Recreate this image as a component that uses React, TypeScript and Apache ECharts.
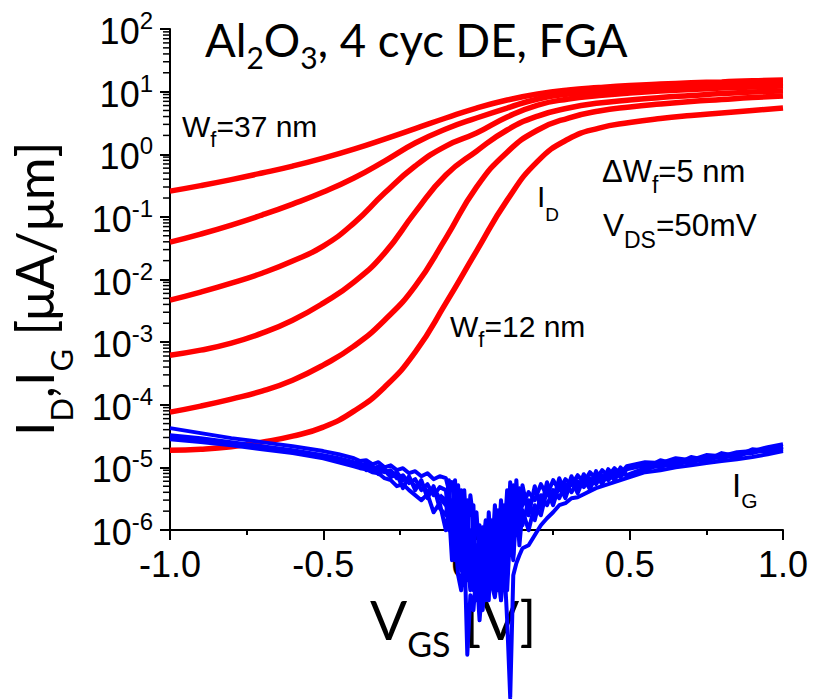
import React, { useEffect, useRef } from 'react';
import * as echarts from 'echarts';

// Gate voltage grid for drain-current curves [V]
const VGS = [-1.0, -0.9, -0.8, -0.7, -0.6, -0.5, -0.4, -0.3, -0.2, -0.1, 0.0, 0.1, 0.2, 0.3, 0.4, 0.5, 0.6, 0.7, 0.8, 0.9, 1.0];

// Drain current I_D [uA/um] for fin widths 37 ... 12 nm
const ID_37 = [0.258, 0.316, 0.394, 0.501, 0.648, 0.869, 1.21, 1.75, 2.57, 3.79, 5.47, 7.35, 9.16, 10.6, 11.6, 12.5, 13.2, 13.8, 14.3, 14.9, 15.3];
const ID_32 = [0.0395, 0.0531, 0.0740, 0.107, 0.160, 0.249, 0.417, 0.778, 1.51, 2.53, 3.79, 5.47, 7.62, 9.16, 10.2, 11.0, 11.6, 12.3, 12.7, 13.2, 13.7];
const ID_27 = [0.00469, 0.00630, 0.00875, 0.0126, 0.0197, 0.0342, 0.0796, 0.240, 0.648, 1.35, 2.18, 3.93, 6.11, 7.62, 8.66, 9.51, 10.2, 10.8, 11.4, 11.8, 12.3];
const ID_22 = [6.19e-4, 7.45e-4, 9.64e-4, 1.39e-3, 2.24e-3, 4.20e-3, 9.08e-3, 0.0264, 0.119, 0.466, 1.12, 2.44, 4.07, 5.47, 6.58, 7.35, 8.05, 8.66, 9.33, 9.86, 10.2];
const ID_17 = [7.62e-5, 9.51e-5, 1.23e-4, 1.65e-4, 2.47e-4, 4.30e-4, 8.63e-4, 2.24e-3, 7.85e-3, 0.0458, 0.299, 1.08, 2.44, 3.79, 4.90, 5.68, 6.34, 6.95, 7.48, 8.05, 8.51];
const ID_12 = [1.88e-5, 1.95e-5, 2.14e-5, 2.53e-5, 3.15e-5, 4.39e-5, 7.91e-5, 1.91e-4, 6.92e-4, 4.20e-3, 0.0284, 0.185, 0.778, 1.75, 2.62, 3.21, 3.72, 4.15, 4.55, 4.99, 5.47];

// Gate voltage grid for gate-leakage traces [V]
const VG_G = [
  -1.00, -0.90, -0.80, -0.70, -0.60, -0.50, -0.45,
  -0.40, -0.38, -0.36, -0.34, -0.32, -0.30, -0.28, -0.26, -0.24, -0.22, -0.20, -0.18, -0.16, -0.14, -0.12,
  -0.10, -0.09, -0.08, -0.07, -0.06, -0.05, -0.04, -0.03, -0.02, -0.01,
  0.00, 0.01, 0.02, 0.03, 0.04, 0.05, 0.06, 0.07, 0.08, 0.09,
  0.10, 0.11, 0.12, 0.13, 0.14, 0.15,
  0.17, 0.19, 0.21, 0.23, 0.25, 0.27, 0.29, 0.31, 0.33, 0.35, 0.37, 0.39, 0.41, 0.43, 0.45, 0.47, 0.49,
  0.55, 0.60, 0.65, 0.70, 0.75, 0.80, 0.85, 0.90, 0.95, 1.00,
];

// Gate current I_G [uA/um], overlapping traces
const IG_A = [
  4.23e-5, 3.52e-5, 2.93e-5, 2.53e-5, 2.18e-5, 1.82e-5, 1.62e-5,
  1.40e-5, 1.26e-5, 1.30e-5, 1.12e-5, 1.21e-5, 1.0e-5, 1.08e-5, 9.02e-6, 9.70e-6, 8.07e-6, 8.69e-6, 7.23e-6, 8.07e-6, 6.48e-6, 7.23e-6,
  6.72e-6, 4.33e-6, 5.80e-6, 2.07e-6, 5.20e-6, 9.9e-7, 4.33e-6, 6.87e-7, 3.60e-6, 1.43e-6,
  1.92e-6, 3.29e-7, 1.11e-6, 1.58e-7, 1.92e-6, 3.29e-7, 2.49e-6, 4.75e-7, 2.99e-6, 6.87e-7,
  4.33e-6, 1.19e-6, 5.20e-6, 1.72e-6, 4.66e-6, 2.49e-6,
  4.02e-6, 2.99e-6, 5.39e-6, 3.60e-6, 6.25e-6, 4.33e-6, 6.48e-6, 5.20e-6, 7.50e-6, 5.80e-6, 8.38e-6, 6.48e-6, 9.02e-6, 7.23e-6, 9.70e-6, 8.07e-6, 1.04e-5,
  1.21e-5, 1.17e-5, 1.40e-5, 1.30e-5, 1.57e-5, 1.51e-5, 1.75e-5, 1.82e-5, 2.10e-5, 2.35e-5,
];
const IG_B = [
  3.27e-5, 2.93e-5, 2.53e-5, 2.18e-5, 1.88e-5, 1.57e-5, 1.40e-5,
  1.21e-5, 1.17e-5, 1.0e-5, 1.04e-5, 9.02e-6, 9.35e-6, 7.50e-6, 8.38e-6, 6.25e-6, 6.72e-6, 4.83e-6, 5.60e-6, 4.02e-6, 4.66e-6, 3.22e-6,
  2.49e-6, 6.25e-6, 6.87e-7, 3.60e-6, 3.29e-7, 1.43e-6, 2.74e-7, 2.99e-6, 1.90e-7, 5.71e-7,
  1.09e-7, 1.19e-6, 6.30e-8, 6.87e-7, 7.57e-8, 1.43e-6, 1.58e-7, 2.07e-6, 2.74e-7, 2.49e-6,
  4.75e-7, 5.80e-6, 6.87e-7, 6.25e-6, 9.9e-7, 5.20e-6,
  1.72e-6, 5.01e-6, 2.23e-6, 5.80e-6, 2.99e-6, 6.72e-6, 3.73e-6, 7.23e-6, 4.33e-6, 7.78e-6, 5.01e-6, 8.69e-6, 5.80e-6, 9.35e-6, 6.72e-6, 1.0e-5, 7.50e-6,
  9.70e-6, 1.30e-5, 1.12e-5, 1.46e-5, 1.30e-5, 1.69e-5, 1.51e-5, 1.95e-5, 1.82e-5, 2.10e-5,
];
const IG_C = [
  2.82e-5, 2.53e-5, 2.26e-5, 1.95e-5, 1.69e-5, 1.40e-5, 1.21e-5,
  1.04e-5, 9.70e-6, 9.35e-6, 8.38e-6, 8.07e-6, 6.72e-6, 6.25e-6, 5.01e-6, 5.39e-6, 4.33e-6, 3.60e-6, 2.99e-6, 3.73e-6, 1.92e-6, 2.68e-6,
  9.9e-7, 2.07e-6, 3.29e-7, 9.9e-7, 1.90e-7, 1.09e-7, 6.87e-7, 1.02e-8, 9.08e-8, 5.24e-8,
  2.28e-7, 3.62e-8, 1.58e-7, 1.09e-7, 3.95e-7, 1.31e-7, 8.45e-8, 2.28e-7, 7.57e-8, 3.29e-7,
  3.62e-8, 2.10e-9, 1.90e-7, 2.95e-7, 3.95e-7, 5.12e-7,
  5.71e-7, 8.26e-7, 1.19e-6, 1.54e-6, 1.92e-6, 2.49e-6, 2.68e-6, 3.22e-6, 3.34e-6, 3.73e-6, 4.17e-6, 4.66e-6, 5.01e-6, 5.39e-6, 5.80e-6, 6.25e-6, 6.72e-6,
  8.38e-6, 9.02e-6, 1.0e-5, 1.08e-5, 1.17e-5, 1.26e-5, 1.35e-5, 1.46e-5, 1.62e-5, 1.82e-5,
];
const IG_D = [
  3.15e-5, 2.72e-5, 2.35e-5, 2.10e-5, 1.82e-5, 1.51e-5, 1.35e-5,
  1.17e-5, 1.04e-5, 1.17e-5, 9.35e-6, 1.04e-5, 8.38e-6, 9.02e-6, 6.72e-6, 7.50e-6, 5.60e-6, 6.48e-6, 4.33e-6, 5.39e-6, 3.60e-6, 4.83e-6,
  4.33e-6, 1.43e-6, 2.99e-6, 5.71e-7, 1.72e-6, 4.33e-6, 4.75e-7, 1.58e-7, 9.9e-7, 1.58e-7,
  5.71e-7, 7.57e-8, 4.75e-7, 1.43e-6, 1.09e-7, 6.87e-7, 1.19e-6, 1.09e-7, 6.87e-7, 1.90e-7,
  1.43e-6, 4.75e-7, 2.07e-6, 8.26e-7, 2.99e-6, 1.19e-6,
  2.99e-6, 1.43e-6, 3.60e-6, 2.49e-6, 4.33e-6, 3.22e-6, 5.39e-6, 4.02e-6, 6.02e-6, 4.83e-6, 6.72e-6, 5.39e-6, 7.50e-6, 6.25e-6, 8.38e-6, 6.97e-6, 9.35e-6,
  1.08e-5, 1.0e-5, 1.26e-5, 1.17e-5, 1.46e-5, 1.40e-5, 1.62e-5, 1.69e-5, 1.95e-5, 2.18e-5,
];
const IG_E = [
  3.04e-5, 2.62e-5, 2.35e-5, 2.03e-5, 1.75e-5, 1.46e-5, 1.30e-5,
  1.08e-5, 1.12e-5, 9.02e-6, 1.0e-5, 7.78e-6, 9.02e-6, 6.97e-6, 7.78e-6, 4.66e-6, 7.23e-6, 4.33e-6, 6.25e-6, 3.22e-6, 5.01e-6, 2.23e-6,
  1.72e-6, 3.34e-6, 1.19e-6, 6.25e-6, 6.87e-7, 2.28e-7, 2.07e-6, 3.29e-7, 1.09e-7, 2.49e-6,
  7.57e-8, 6.87e-7, 5.24e-8, 2.74e-7, 9.9e-7, 1.90e-7, 3.29e-7, 9.9e-7, 1.58e-7, 1.43e-6,
  2.74e-7, 2.99e-6, 3.95e-7, 2.99e-6, 5.71e-7, 2.07e-6,
  9.9e-7, 2.49e-6, 1.72e-6, 4.33e-6, 2.49e-6, 5.20e-6, 3.22e-6, 6.25e-6, 3.87e-6, 6.72e-6, 4.49e-6, 7.50e-6, 5.39e-6, 8.38e-6, 6.25e-6, 9.02e-6, 7.23e-6,
  9.02e-6, 1.12e-5, 1.04e-5, 1.35e-5, 1.26e-5, 1.57e-5, 1.46e-5, 1.88e-5, 1.75e-5, 1.95e-5,
];

// Sixth trace, recorded only around the minimum
const VG_F = [
  -0.12, -0.10, -0.09, -0.08, -0.07, -0.06, -0.05, -0.04, -0.03, -0.02, -0.01,
  0.00, 0.01, 0.02, 0.03, 0.04, 0.05, 0.06, 0.07, 0.08, 0.09,
  0.10, 0.11, 0.12, 0.13, 0.14, 0.15, 0.17,
];
const IG_F = [
  3.60e-6, 2.99e-6, 9.9e-7, 2.07e-6, 3.29e-7, 2.99e-6, 4.75e-7, 1.31e-7, 1.43e-6, 3.29e-7, 1.09e-7,
  3.95e-7, 1.31e-7, 6.87e-7, 7.57e-8, 2.28e-7, 9.9e-7, 1.31e-7, 5.71e-7, 7.57e-8, 9.9e-7,
  1.09e-7, 9.9e-7, 3.29e-7, 2.07e-6, 1.19e-6, 2.99e-6, 2.49e-6,
];

const ID_CURVES = [ID_37, ID_32, ID_27, ID_22, ID_17, ID_12];
const IG_CURVES: [number[], number[]][] = [
  [VG_G, IG_C], [VG_F, IG_F], [VG_G, IG_E], [VG_G, IG_B], [VG_G, IG_D], [VG_G, IG_A],
];

// Axis ranges and ticks
const X_MIN = -1.0;
const X_MAX = 1.0;
const X_STEP = 0.5;
const Y_MIN = 1e-6;
const Y_MAX = 1e2;
const LOG_MINOR = [2, 3, 4, 5, 6, 7, 8, 9];

const SANS = "'Liberation Sans', Arial, sans-serif";
const CAL = "Lato, 'Open Sans', sans-serif";

function tok(fs: number, font: string, pad = 0) {
  return { fontSize: fs, fontFamily: font, color: '#000', verticalAlign: 'top', padding: [pad, 0, 0, 0] };
}

export default function App() {
  const ref = useRef<HTMLDivElement>(null);

  useEffect(() => {
    const el = ref.current;
    if (!el) return;
    const chart = echarts.init(el, undefined, { renderer: 'svg' });

    const red = ID_CURVES.map((d) => ({
      type: 'line',
      data: VGS.map((x, i) => [x, d[i]]),
      smooth: 0.5,
      symbol: 'none',
      clip: false,
      lineStyle: { color: '#ff0000', width: 5.5 },
      z: 3,
    }));
    const blue = IG_CURVES.map(([xs, d]) => ({
      type: 'line',
      data: xs.map((x, i) => [x, d[i]]),
      symbol: 'none',
      clip: false,
      lineStyle: { color: '#0000ff', width: 4, join: 'round' },
      z: 4,
    }));

    chart.setOption({
      animation: false,
      grid: { left: 170, right: 32, top: 29, bottom: 169, containLabel: false },
      xAxis: {
        type: 'value',
        min: X_MIN,
        max: X_MAX,
        interval: X_STEP,
        axisLine: { show: true, onZero: false, lineStyle: { color: '#000', width: 2 } },
        axisTick: { show: true, inside: false, length: 10, lineStyle: { color: '#000', width: 2 } },
        minorTick: { show: true, splitNumber: 2, length: 5, lineStyle: { color: '#000', width: 2 } },
        splitLine: { show: false },
        axisLabel: {
          show: true,
          margin: 16,
          showMinLabel: true,
          showMaxLabel: true,
          formatter: (v: number) => v.toFixed(1),
          fontSize: 36,
          fontFamily: SANS,
          color: '#000',
        },
      },
      yAxis: {
        type: 'log',
        logBase: 10,
        min: Y_MIN,
        max: Y_MAX,
        splitNumber: 8,
        axisLine: { show: true, onZero: false, lineStyle: { color: '#000', width: 2 } },
        axisTick: { show: true, inside: false, length: 10, lineStyle: { color: '#000', width: 2 } },
        splitLine: { show: false },
        axisLabel: {
          show: true,
          margin: 17,
          formatter: (v: number) => `{b|10}{s|${Math.round(Math.log10(v))}}`,
          rich: {
            b: { fontSize: 36, fontFamily: SANS, color: '#000', verticalAlign: 'top', padding: [5, 0, 0, 0] },
            s: { fontSize: 24, fontFamily: SANS, color: '#000', verticalAlign: 'top' },
          },
        },
      },
      series: [...red, ...blue],
    });

    const x0 = chart.convertToPixel({ xAxisIndex: 0 }, X_MIN) as number;
    const graphic: any[] = [];
    const lo = Math.round(Math.log10(Y_MIN));
    const hi = Math.round(Math.log10(Y_MAX));
    for (let e = lo; e < hi; e++) {
      for (const m of LOG_MINOR) {
        const py = chart.convertToPixel({ yAxisIndex: 0 }, m * Math.pow(10, e)) as number;
        graphic.push({
          type: 'line',
          z: 1,
          shape: { x1: x0 - 7, y1: py, x2: x0, y2: py },
          style: { stroke: '#000', lineWidth: 1.5 },
        });
      }
    }

    const txt = (x: number, y: number, text: string, rich: any, rotation = 0) => ({
      type: 'text',
      x,
      y,
      rotation,
      z: 1,
      style: { text, rich, align: 'left', verticalAlign: 'top', fill: '#000' },
    });

    // title
    graphic.push(txt(205, 16, '{m|Al}{d|2}{m|O}{d|3}{m|, 4 cyc DE, FGA}', {
      m: tok(45.5, CAL), d: tok(30, CAL, 26),
    }));
    // y-axis title (rotated)
    graphic.push(txt(8, 436, '{m|I}{s|D}{m|,I}{s|G}{m| [μA/μm]}', {
      m: tok(52, CAL), s: tok(31, CAL, 37),
    }, Math.PI / 2));
    // x-axis title
    graphic.push(txt(370, 591, '{m|V}{s|GS}{m| [V]}', {
      m: tok(55, CAL), s: tok(34, CAL, 35.5),
    }));
    // annotations
    const ann = { m: tok(30, SANS), s: tok(22, SANS, 16.8) };
    graphic.push(txt(182, 111.6, '{m|W}{s|f}{m|=37 nm}', ann));
    graphic.push(txt(602, 155.5, '{m|ΔW}{s|f}{m|=5 nm}', { m: tok(31, SANS), s: tok(23, SANS, 17.5) }));
    graphic.push(txt(603, 208.5, '{m|V}{s|DS}{m|=50mV}', { m: tok(31.5, SANS), s: tok(23, SANS, 19.5) }));
    graphic.push(txt(537, 181.6, '{m|I}{s|D}', { m: tok(30, SANS), s: tok(19, SANS, 23.3) }));
    graphic.push(txt(450, 311.6, '{m|W}{s|f}{m|=12 nm}', ann));
    graphic.push(txt(732, 469.1, '{m|I}{s|G}', { m: tok(33, SANS), s: tok(21, SANS, 21.1) }));

    chart.setOption({ graphic });

    return () => chart.dispose();
  }, []);

  return (
    <div
      ref={ref}
      style={{ position: 'absolute', left: 0, top: 0, width: 815, height: 699, background: '#fff' }}
    />
  );
}
